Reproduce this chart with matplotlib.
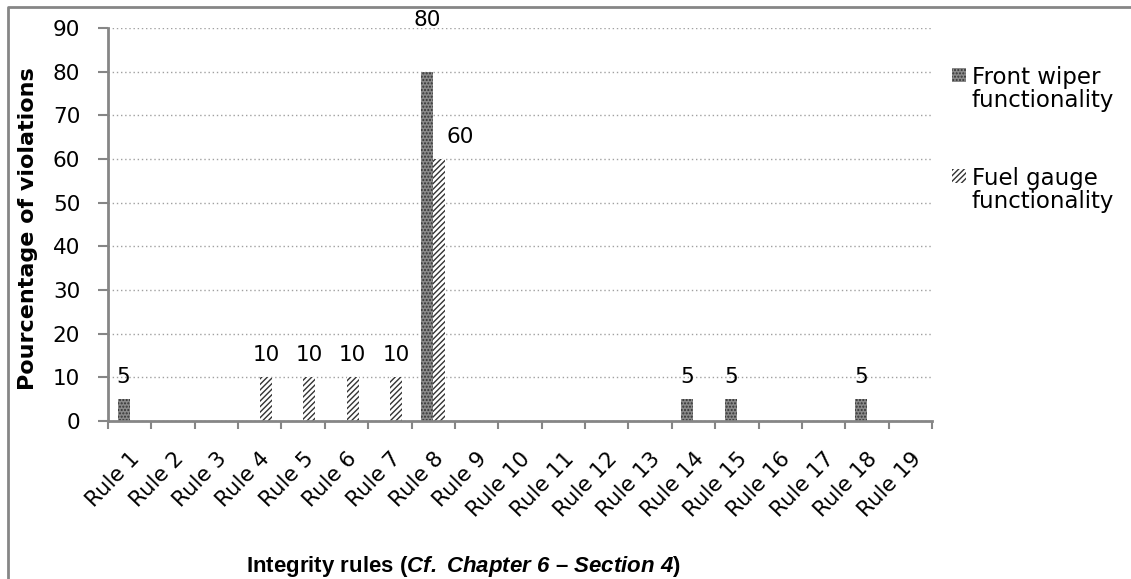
import matplotlib
matplotlib.use("Agg")
import matplotlib.pyplot as plt
from matplotlib.lines import Line2D
from matplotlib.patches import Rectangle
import numpy as np

plt.rcParams['font.family'] = ['DejaVu Sans']
plt.rcParams['mathtext.fontset'] = 'custom'
plt.rcParams['mathtext.rm'] = 'Liberation Sans'
plt.rcParams['mathtext.bf'] = 'Liberation Sans:bold'
plt.rcParams['mathtext.it'] = 'Liberation Sans:italic'
plt.rcParams['mathtext.bfit'] = 'Liberation Sans:bold:italic'
plt.rcParams['hatch.linewidth'] = 1.0

rules = [f"Rule {i}" for i in range(1, 20)]
front_wiper = [5, 0, 0, 0, 0, 0, 0, 80, 0, 0, 0, 0, 0, 5, 5, 0, 0, 5, 0]
fuel_gauge = [0, 0, 0, 10, 10, 10, 10, 60, 0, 0, 0, 0, 0, 0, 0, 0, 0, 0, 0]
series_names = ["Front wiper\nfunctionality", "Fuel gauge\nfunctionality"]
yticks = list(range(0, 91, 10))

W, H = 1131, 579
fig = plt.figure(figsize=(W / 100, H / 100), dpi=100)
ax = fig.add_axes([108 / W, 1 - 421 / H, (932 - 108) / W, (421 - 28) / H])

FRONT_STYLE = dict(color='#8a8a8a', edgecolor='#333333', hatch='.....', linewidth=0)
FUEL_STYLE = dict(color='white', edgecolor='#333333', hatch='//////', linewidth=0)

x = np.arange(len(rules))
bw = 0.28
b1 = ax.bar(x - bw / 2, front_wiper, bw, label=series_names[0], **FRONT_STYLE)
b2 = ax.bar(x + bw / 2, fuel_gauge, bw, label=series_names[1], **FUEL_STYLE)

VAL_FS = 15.5
for rect, v in zip(b1, front_wiper):
    if v:
        dy = 37 if v == 80 else 16
        ax.annotate(str(v), (rect.get_x() + rect.get_width() / 2, v),
                    xytext=(0, dy), textcoords='offset points',
                    ha='center', va='center', fontsize=VAL_FS)
for rect, v in zip(b2, fuel_gauge):
    if v:
        dx = 15 if v == 60 else 0
        ax.annotate(str(v), (rect.get_x() + rect.get_width() / 2, v),
                    xytext=(dx, 16), textcoords='offset points',
                    ha='center', va='center', fontsize=VAL_FS)

ax.set_xlim(-0.5, len(rules) - 0.5)
ax.set_ylim(0, 90)
ax.set_yticks(yticks)
ax.set_yticklabels([str(t) for t in yticks], fontsize=15.5)
ax.set_xticks(x)
ax.set_xticklabels(rules, rotation=46, ha='right', va='top',
                   rotation_mode='anchor', fontsize=15.5)
ax.set_xticks(np.arange(-0.5, len(rules)), minor=True)
ax.tick_params(axis='x', which='major', length=0, pad=20)
ax.tick_params(axis='x', which='minor', length=6, width=1.5, color='#868686')
ax.tick_params(axis='y', length=7, width=1.5, color='#868686', pad=13)

ax.grid(axis='y', color='#a0a0a0', linestyle=(0, (1, 2)), linewidth=1)
ax.set_axisbelow(True)
for s in ['top', 'right']:
    ax.spines[s].set_visible(False)
for s in ['left', 'bottom']:
    ax.spines[s].set_color('#868686')
    ax.spines[s].set_linewidth(2)

ax.set_ylabel("Pourcentage of violations", fontsize=16, fontweight='bold', va='center')
ax.yaxis.set_label_coords((28 - 108) / (932 - 108), 0.49)

fig.text(463 / W, 1 - 572 / H,
         r"$\mathbf{Integrity\ rules\ (}\mathbfit{Cf.\ Chapter\ 6}\mathbf{\ –\ }\mathbfit{Section\ 4}\mathbf{)}$",
         ha='center', va='baseline', fontsize=16)

# legend (marker aligned with first text line, as in the reference)
LEG_FS = 16.5
for name, style, ytop in [(series_names[0], FRONT_STYLE, 68),
                          (series_names[1], FUEL_STYLE, 169)]:
    fig.add_artist(Rectangle((952 / W, 1 - (ytop + 14) / H), 14 / W, 14 / H,
                             transform=fig.transFigure, facecolor=style['color'],
                             edgecolor=style['edgecolor'], hatch=style['hatch'],
                             linewidth=0))
    fig.text(972 / W, 1 - (ytop - 2) / H, name, ha='left', va='top',
             fontsize=LEG_FS, linespacing=1.0)

# figure border (top and left visible)
fig.add_artist(Line2D([8 / W, 8 / W, 1], [0, 1 - 7 / H, 1 - 7 / H],
                      transform=fig.transFigure, color='#868686', linewidth=2))

fig.savefig("out.png", dpi=100)
